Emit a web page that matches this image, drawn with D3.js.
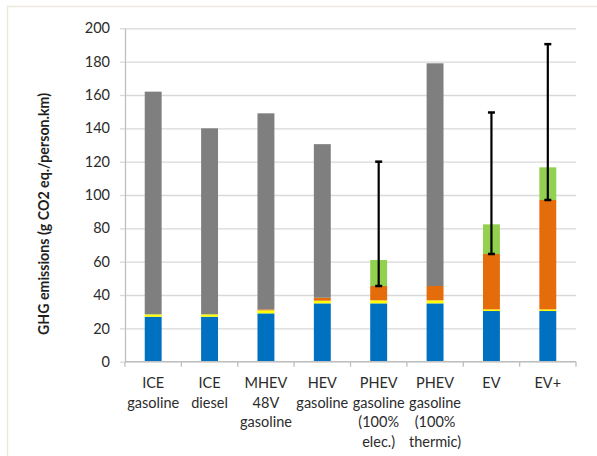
<!DOCTYPE html>
<html>
<head>
<meta charset="utf-8">
<script src="https://cdn.jsdelivr.net/npm/d3@7/dist/d3.min.js"></script>
<style>
  html, body { margin: 0; padding: 0; background: #fff; }
  svg { display: block; }
</style>
</head>
<body>
<svg id="chart" width="597" height="456"></svg>
<script>
// ---- Data ----
const categories = ["ICE gasoline", "ICE diesel", "MHEV 48V gasoline", "HEV gasoline",
  "PHEV gasoline (100% elec.)", "PHEV gasoline (100% thermic)", "EV", "EV+"];
const categoryLines = [
  ["ICE", "gasoline"], ["ICE", "diesel"], ["MHEV", "48V", "gasoline"], ["HEV", "gasoline"],
  ["PHEV", "gasoline", "(100%", "elec.)"], ["PHEV", "gasoline", "(100%", "thermic)"], ["EV"], ["EV+"]
];
const seriesNames = ["Vehicle", "Maintenance", "Battery", "Fuel", "Electricity"];
const vehicle     = [27,    27,    29,    35,   35,   35,    30.4, 30.4];
const maintenance = [1.4,   1.4,   1.8,   1.6,  1.8,  1.8,   1.0,  1.0];
const battery     = [0,     0,     0.6,   1.8,  8.6,  8.6,   33.2, 65.6];
const fuel        = [133.6, 111.6, 117.6, 92.1, 0,    133.6, 0,    0];
const electricity = [0,     0,     0,     0,    15.6, 0,     17.8, 19.6];
const errLow  = [null, null, null, null, 45.4, null, 64.6, 97];
const errHigh = [null, null, null, null, 120,  null, 149.5, 190.5];
const yTicks = [0, 20, 40, 60, 80, 100, 120, 140, 160, 180, 200];
const yTitle = "GHG emissions (g CO2 eq./person.km)";

// ---- Layout ----
const svg = d3.select("#chart");
const colors = ["#0070c0", "#ffff00", "#e46c0a", "#7f7f7f", "#92d050"];
const mLeft = 125, mRight = 576, mTop = 28.3, mBottom = 361.7;
const font = "Lato, 'Open Sans', sans-serif";

// frame
svg.append("path").attr("d", "M7.5,456V6.5H597").attr("fill", "none")
  .attr("stroke", "#ede9df").attr("stroke-width", 1.5);

const x = d3.scaleBand().domain(categories).range([mLeft, mRight]).paddingInner(0.7).paddingOuter(0.35);
const y = d3.scaleLinear().domain([0, 200]).range([mBottom, mTop]);

// gridlines
svg.append("g").attr("transform", `translate(${mLeft},0)`)
  .call(d3.axisLeft(y).tickValues(yTicks).tickSizeInner(-(mRight - mLeft)).tickSizeOuter(0).tickFormat(""))
  .call(g => g.select(".domain").remove())
  .call(g => g.selectAll("line").attr("stroke", "#d9d9d9").attr("stroke-width", 1.3));

// y axis with labels
svg.append("g").attr("transform", `translate(${mLeft},0)`)
  .call(d3.axisLeft(y).tickValues(yTicks).tickSizeInner(5).tickSizeOuter(0).tickPadding(10))
  .call(g => g.select(".domain").attr("stroke", "#bfbfbf").attr("stroke-width", 1.3))
  .call(g => g.selectAll("line").attr("stroke", "#d9d9d9").attr("stroke-width", 1.3))
  .call(g => g.selectAll("text").attr("font-family", font).attr("font-size", 14.5).attr("fill", "#2b2b2b"));

// stacked bars
const rows = categories.map((c, i) => ({
  cat: c, Vehicle: vehicle[i], Maintenance: maintenance[i], Battery: battery[i],
  Fuel: fuel[i], Electricity: electricity[i]
}));
const stack = d3.stack().keys(seriesNames)(rows);
svg.append("g").selectAll("g").data(stack).join("g")
  .attr("fill", (d, i) => colors[i])
  .selectAll("rect").data(d => d).join("rect")
  .attr("x", d => x(d.data.cat))
  .attr("width", x.bandwidth())
  .attr("y", d => y(d[1]))
  .attr("height", d => Math.max(0, y(d[0]) - y(d[1])));

// x axis line and ticks at category boundaries
svg.append("line").attr("x1", mLeft).attr("x2", mRight).attr("y1", mBottom).attr("y2", mBottom)
  .attr("stroke", "#bfbfbf").attr("stroke-width", 1.3);
const step = x.step();
const boundary = i => x(categories[0]) - step * x.paddingOuter() + i * step;
svg.append("g").selectAll("line").data(d3.range(categories.length + 1)).join("line")
  .attr("x1", boundary).attr("x2", boundary)
  .attr("y1", mBottom).attr("y2", mBottom + 5)
  .attr("stroke", "#bfbfbf").attr("stroke-width", 1.3);

// category labels
const labels = svg.append("g").attr("font-family", font).attr("font-size", 14.5)
  .attr("fill", "#2b2b2b").attr("text-anchor", "middle");
categories.forEach((c, i) => {
  const cx = x(c) + x.bandwidth() / 2;
  const t = labels.append("text").attr("x", cx).attr("y", 388);
  categoryLines[i].forEach((ln, j) => {
    t.append("tspan").attr("x", cx).attr("dy", j === 0 ? 0 : 19.7).text(ln);
  });
});

// error bars
const eb = svg.append("g").attr("stroke", "#000").attr("stroke-width", 2.2);
categories.forEach((c, i) => {
  if (errLow[i] == null) return;
  const cx = x(c) + x.bandwidth() / 2;
  eb.append("line").attr("x1", cx).attr("x2", cx).attr("y1", y(errLow[i])).attr("y2", y(errHigh[i]));
  [errLow[i], errHigh[i]].forEach(v => {
    eb.append("line").attr("x1", cx - 3.5).attr("x2", cx + 3.5).attr("y1", y(v)).attr("y2", y(v))
      .attr("stroke-width", 2.5);
  });
});

// y title
svg.append("text")
  .attr("transform", "translate(49,214) rotate(-90)")
  .attr("text-anchor", "middle")
  .attr("font-family", font).attr("font-weight", "bold").attr("font-size", 14.2)
  .attr("fill", "#1f1f1f")
  .text(yTitle);
</script>
</body>
</html>
